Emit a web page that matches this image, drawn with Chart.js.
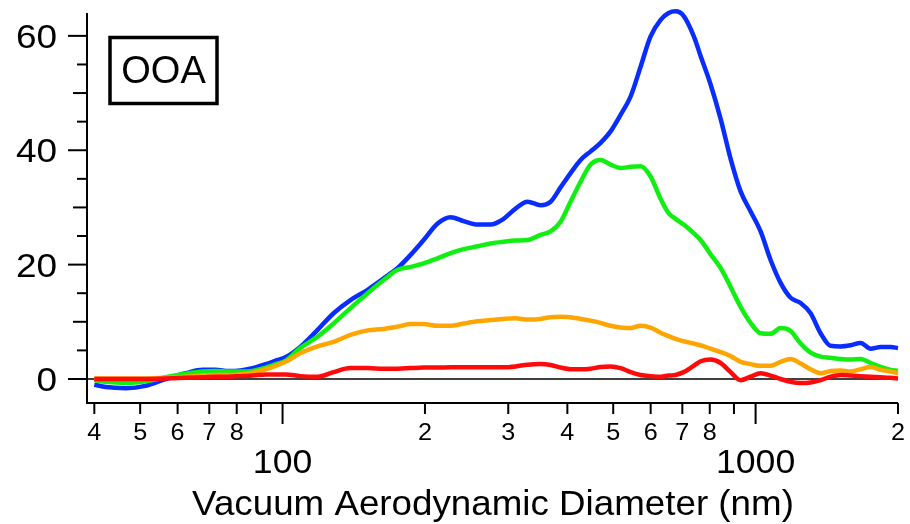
<!DOCTYPE html>
<html><head><meta charset="utf-8">
<script src="https://cdn.jsdelivr.net/npm/chart.js@4/dist/chart.umd.min.js"></script>
<style>html,body{margin:0;padding:0;background:#fff;}canvas{display:block;}</style>
</head><body>
<canvas id="c" width="910" height="524"></canvas>
<script>
// Vacuum aerodynamic diameter (nm)
const diameters = [40,42.3,46.6,51.3,56.6,62.4,67.8,72.2,76.9,81.5,86.4,92.1,96.7,101.5,109,118.6,128.2,139.2,151.3,163.6,175.1,186.5,198.7,212.7,226.6,241.4,258.4,275.3,293.3,310.9,329.6,351.1,368.6,387,406.3,426.6,447.9,470.2,493.7,518.3,544.2,571.3,599.8,629.8,654.7,677.3,704.4,739.6,765.1,803.3,843.4,885.5,929.6,976,1024.7,1075.7,1129.4,1185.8,1244.9,1307,1372,1440,1512,1588,1667,1750,1838,1929,2000];
const blueValues = [-1.0,-1.4,-1.6,-1.2,0.0,1.0,1.6,1.6,1.4,1.5,1.9,2.6,3.2,3.8,5.6,8.6,11.5,13.8,15.6,17.6,19.4,21.7,24.3,27.2,28.3,27.6,27.0,27.0,28.0,29.8,31.0,30.4,31.0,33.5,36.0,38.3,39.8,41.3,43.3,46.2,49.4,54.6,59.9,62.8,64.0,64.3,63.5,60.0,56.5,51.5,45.5,38.5,32.8,29.3,25.8,20.8,16.8,14.2,13.3,11.5,8.0,5.8,5.7,5.9,6.3,5.3,5.6,5.6,5.4];
const greenValues = [-0.2,-0.5,-0.7,-0.4,0.3,0.9,1.3,1.4,1.3,1.3,1.4,2.0,2.6,3.2,5.4,7.4,9.7,12.4,15.0,17.3,19.1,19.6,20.2,21.1,22.0,22.7,23.2,23.7,24.0,24.2,24.3,25.2,25.8,27.5,31.0,34.5,37.5,38.3,37.5,36.9,37.1,37.2,35.4,31.5,29.0,28.0,27.0,25.5,24.3,21.8,19.4,16.1,12.6,9.8,8.0,7.9,8.9,8.4,6.2,4.6,3.9,3.7,3.5,3.4,3.5,2.8,2.1,1.6,1.45];
const orangeValues = [0.1,0.1,0.1,0.1,0.2,0.4,0.6,0.7,0.7,0.8,1.1,1.7,2.3,3.0,4.5,5.7,6.5,7.7,8.5,8.75,9.15,9.6,9.6,9.3,9.3,9.7,10.1,10.3,10.5,10.6,10.4,10.5,10.8,10.9,10.8,10.5,10.2,9.8,9.3,9.0,8.9,9.3,9.0,8.1,7.5,7.0,6.6,6.2,5.9,5.3,4.7,4.0,3.0,2.6,2.3,2.3,3.0,3.5,2.7,1.7,1.0,1.4,1.5,1.3,1.7,2.1,1.6,1.3,1.0];
const redValues = [0.0,0.0,0.0,0.0,0.1,0.2,0.3,0.4,0.4,0.5,0.6,0.8,0.8,0.8,0.5,0.4,1.2,1.9,1.9,1.8,1.8,1.9,2.0,2.0,2.05,2.05,2.05,2.05,2.05,2.2,2.5,2.6,2.45,2.0,1.7,1.7,1.8,2.1,2.2,1.9,1.2,0.7,0.5,0.4,0.6,0.7,1.2,2.3,3.1,3.4,2.8,1.2,-0.2,0.4,1.0,0.6,0.0,-0.5,-0.7,-0.6,-0.2,0.4,0.7,0.6,0.5,0.4,0.3,0.2,0.1];

// Axis ticks and labels
const yTickValues = [0,5,10,15,20,25,30,35,40,45,50,55,60];
const yTickLabels = ['0','','','','20','','','','40','','','','60'];
const xTickValues = [40,50,60,70,80,90,100,200,300,400,500,600,700,800,900,1000,2000];
const xTickLabels = ['4','5','6','7','8','','','2','3','4','5','6','7','8','','','2'];
const xDecadeValues = [100,1000];
const xDecadeLabels = ['100','1000'];
const xTitle = 'Vacuum Aerodynamic Diameter (nm)';
const boxLabel = 'OOA';

const FONT = '"Liberation Sans", Arial, Helvetica, sans-serif';

function txt(ctx, s, x, y, size, align, sx) {
  ctx.save();
  ctx.font = size + 'px ' + FONT;
  ctx.textBaseline = 'alphabetic';
  ctx.textAlign = align;
  ctx.translate(x, y);
  ctx.scale(sx, 1);
  ctx.fillText(s, 0, 0);
  ctx.restore();
}

const axesPlugin = {
  id: 'axesPlugin',
  beforeDatasetsDraw(chart) {
    const ctx = chart.ctx, a = chart.chartArea, ys = chart.scales.y;
    const y0 = ys.getPixelForValue(0);
    ctx.save();
    ctx.strokeStyle = '#000';
    ctx.lineWidth = 1.5;
    ctx.beginPath();
    ctx.moveTo(a.left, y0);
    ctx.lineTo(a.right, y0);
    ctx.stroke();
    ctx.restore();
  },
  afterDraw(chart) {
    const ctx = chart.ctx, a = chart.chartArea, xs = chart.scales.x, ys = chart.scales.y;
    ctx.save();
    ctx.strokeStyle = '#000';
    ctx.fillStyle = '#000';
    ctx.lineWidth = 2;
    ctx.beginPath();
    ctx.moveTo(a.left, a.top);
    ctx.lineTo(a.left, a.bottom);
    ctx.lineTo(a.right, a.bottom);
    ctx.stroke();
    yTickValues.forEach((v, i) => {
      const y = ys.getPixelForValue(v);
      const len = v % 20 === 0 ? 19 : (v % 10 === 0 ? 14 : 10);
      ctx.beginPath();
      ctx.moveTo(a.left - len, y);
      ctx.lineTo(a.left, y);
      ctx.stroke();
      if (yTickLabels[i]) txt(ctx, yTickLabels[i], 57, y + 12, 33, 'right', 1.12);
    });
    xTickValues.forEach((v, i) => {
      const x = xs.getPixelForValue(v);
      const major = xDecadeValues.includes(v);
      ctx.beginPath();
      ctx.moveTo(x, a.bottom);
      ctx.lineTo(x, a.bottom + (major ? 21 : 11));
      ctx.stroke();
      if (xTickLabels[i]) txt(ctx, xTickLabels[i], x, 440, 24, 'center', 1.05);
    });
    xDecadeValues.forEach((v, i) => {
      txt(ctx, xDecadeLabels[i], xs.getPixelForValue(v), 473, 33, 'center', 1.08);
    });
    txt(ctx, xTitle, 493, 515, 35, 'center', 1.05);
    ctx.lineWidth = 3.5;
    ctx.strokeRect(110, 37.5, 107, 66);
    txt(ctx, boxLabel, 163.5, 83, 38, 'center', 1.0);
    ctx.restore();
  }
};

function ds(vals, color) {
  return {
    data: diameters.map((d, i) => ({x: d, y: vals[i]})),
    borderColor: color,
    borderWidth: 4.5,
    pointRadius: 0,
    fill: false,
    clip: false,
    tension: 0.35,
    cubicInterpolationMode: 'monotone'
  };
}

new Chart(document.getElementById('c'), {
  type: 'line',
  data: {
    datasets: [
      ds(redValues, '#ff0a0a'),
      ds(orangeValues, '#ffa500'),
      ds(greenValues, '#11ee11'),
      ds(blueValues, '#0a2dff')
    ]
  },
  options: {
    responsive: false,
    animation: false,
    devicePixelRatio: 1,
    layout: {padding: {left: 87, right: 12, top: 13, bottom: 121}},
    scales: {
      x: {type: 'logarithmic', min: 38.6, max: 2000, display: false},
      y: {type: 'linear', min: -4.2, max: 64, display: false}
    },
    plugins: {legend: {display: false}, tooltip: {enabled: false}}
  },
  plugins: [axesPlugin]
});
</script>
</body></html>
